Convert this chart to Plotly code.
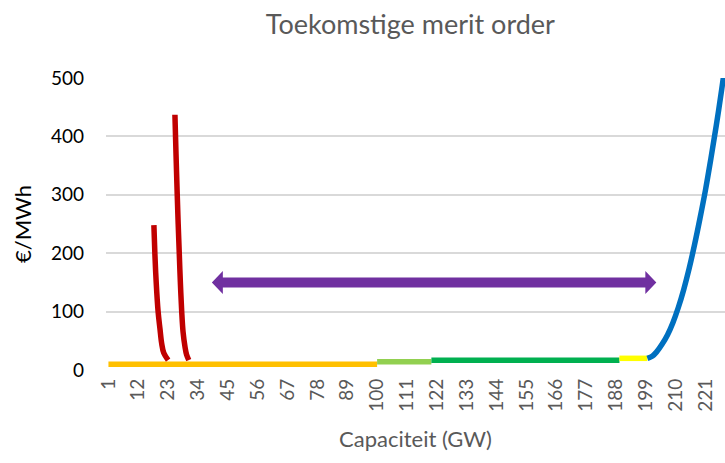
import plotly.graph_objects as go

# ---- data ----
orange_x = [1, 100]
orange_y = [10, 10]
lightgreen_x = [100, 120]
lightgreen_y = [14, 14]
green_x = [120, 189.3]
green_y = [16.5, 16.5]
yellow_x = [189.3, 199.6]
yellow_y = [20, 20]
blue_x = [199.6, 201.5, 203, 205, 207, 209, 211, 213, 215, 217, 219, 221, 223, 225, 227, 228.5]
blue_y = [20, 24, 31, 44, 60, 81, 107, 138, 174, 215, 260, 308, 362, 419, 481, 530]
red1_x = [17.75, 18.1, 18.6, 19.3, 20.0, 20.6, 21.4, 23.0]
red1_y = [248, 200, 150, 100, 70, 46, 29, 17]
red2_x = [25.5, 25.9, 26.35, 26.7, 27.1, 27.5, 28.0, 28.5, 29.2, 29.8, 30.6]
red2_y = [437, 370, 300, 250, 200, 150, 100, 65, 40, 26, 17]
arrow_x = [39.1, 202.9]
arrow_y = [150, 150]
x_ticks = list(range(1, 222, 11))
y_ticks = [0, 100, 200, 300, 400, 500]

# ---- layout constants ----
W, H = 725, 463
ML, MR, MT, MB = 106, 0, 78, 93
X_RANGE = [0.1, 228.2]
Y_RANGE = [0, 500]
px_per_x = (W - ML - MR) / (X_RANGE[1] - X_RANGE[0])
px_per_y = (H - MT - MB) / (Y_RANGE[1] - Y_RANGE[0])

fig = go.Figure()

def add_line(x, y, color, width=5.5, spline=False):
    fig.add_trace(go.Scatter(
        x=x, y=y, mode="lines",
        line=dict(color=color, width=width, shape="spline" if spline else "linear"),
        hoverinfo="skip", showlegend=False))

add_line(orange_x, orange_y, "#FFC000")
add_line(lightgreen_x, lightgreen_y, "#92D050")
add_line(green_x, green_y, "#00B050")
add_line(yellow_x, yellow_y, "#FFFF00")
add_line(blue_x, blue_y, "#0070C0", spline=True)
add_line(red1_x, red1_y, "#C00000", width=5.5, spline=True)
add_line(red2_x, red2_y, "#C00000", width=5.5, spline=True)

# double-headed arrow as a polygon derived from arrow endpoints
head_len = 11 / px_per_x
shaft_h = 5 / px_per_y
head_h = 11.5 / px_per_y
xa, xb = arrow_x
yc = arrow_y[0]
pts = [
    (xa, yc),
    (xa + head_len, yc + head_h),
    (xa + head_len, yc + shaft_h),
    (xb - head_len, yc + shaft_h),
    (xb - head_len, yc + head_h),
    (xb, yc),
    (xb - head_len, yc - head_h),
    (xb - head_len, yc - shaft_h),
    (xa + head_len, yc - shaft_h),
    (xa + head_len, yc - head_h),
]
path = "M " + " L ".join(f"{px},{py}" for px, py in pts) + " Z"
fig.add_shape(type="path", path=path, xref="x", yref="y",
              fillcolor="#7030A0", line=dict(width=0))

FONT = "Lato, 'Open Sans', sans-serif"

fig.update_layout(
    width=W, height=H,
    margin=dict(l=ML, r=MR, t=MT, b=MB, autoexpand=False),
    paper_bgcolor="white", plot_bgcolor="white",
    font=dict(family=FONT),
    title=dict(text="Toekomstige merit order", x=0.566, xref="container",
               xanchor="center", y=0.947, yanchor="middle",
               font=dict(size=27, color="#595959", family=FONT)),
    xaxis=dict(range=X_RANGE, tickvals=x_ticks, ticktext=[str(t) for t in x_ticks],
               tickangle=-90, tickfont=dict(size=19, color="#595959"),
               showgrid=False, zeroline=False, showline=False, ticks="",
               automargin=False, ticklabelstandoff=4,
               title=dict(text="Capaciteit (GW)", font=dict(size=22, color="#595959"),
                          standoff=20)),
    yaxis=dict(range=Y_RANGE, tickvals=y_ticks, tickfont=dict(size=19, color="#000000"),
               showgrid=True, gridcolor="#D9D9D9", gridwidth=1.5,
               zeroline=False, showline=False, ticks="", ticklabelstandoff=21,
               automargin=False,
               title=dict(text="€/MWh", font=dict(size=22, color="#000000"),
                          standoff=13)),
)

fig.write_html("out.html", config={"displayModeBar": False},
               post_script="document.body.style.margin='0px';document.body.style.overflow='hidden';")
